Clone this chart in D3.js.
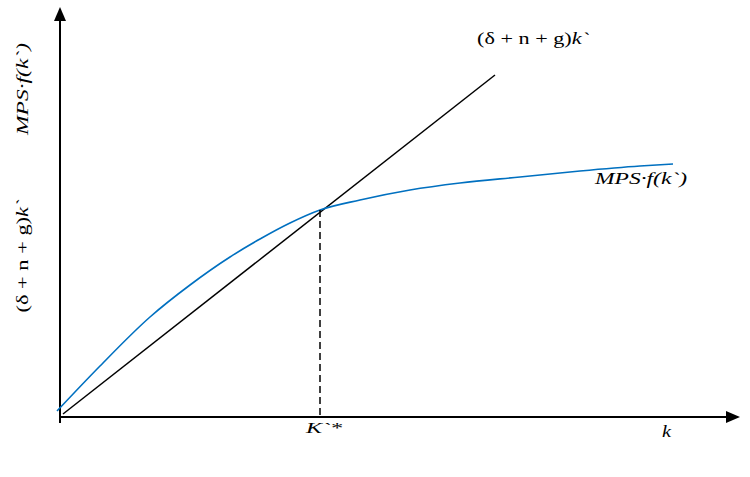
<!DOCTYPE html>
<html><head><meta charset="utf-8">
<script src="https://cdn.jsdelivr.net/npm/d3@7"></script>
<style>body{margin:0;background:#fff}svg{display:block}text{font-family:"Liberation Serif","Times New Roman",serif;fill:#000}</style>
</head><body><svg id="c" width="750" height="477"></svg>
<script>
// Data (arbitrary units)
const kBlue = [-0.3, 4, 9, 13, 17, 20, 23, 26, 30, 35, 40, 46, 52, 58, 61.3];
const yBlue = [0.6, 5.1, 10.0, 13.2, 16.0, 17.8, 19.4, 20.7, 21.7, 22.7, 23.4, 24.0, 24.6, 25.1, 25.3];
const kLine = [0.3, 43.5];
const yLine = [0.3, 34.2];
const kStar = 26;
const labels = {
  lineTop: ["(δ + n + g)", "k`"],
  curveRight: "MPS·f(k`)",
  yTop: "MPS·f(k`)",
  yBottom: ["(δ + n + g)", "k`"],
  kStar: "K`*",
  kAxis: "k"
};

const svg = d3.select("#c");
const x = d3.scaleLinear().domain([0, 68]).range([60, 740]);
const y = d3.scaleLinear().domain([0, 41]).range([417, 7]);

// axes
svg.append("line").attr("x1", x(0)).attr("x2", x(67)).attr("y1", y(0)).attr("y2", y(0)).attr("stroke", "#000").attr("stroke-width", 2);
svg.append("line").attr("x1", x(0)).attr("x2", x(0)).attr("y1", y(-0.6)).attr("y2", y(40)).attr("stroke", "#000").attr("stroke-width", 2);
// arrows
svg.append("path").attr("d", `M${x(68)},${y(0)} L${x(66.6)},${y(0)-6} L${x(66.6)},${y(0)+6} Z`).attr("fill", "#000");
svg.append("path").attr("d", `M${x(0)},${y(41)} L${x(0)-6},${y(39.6)} L${x(0)+6},${y(39.6)} Z`).attr("fill", "#000");

// black line
const lineData = kLine.map((k, i) => [k, yLine[i]]);
svg.append("path").datum(lineData)
  .attr("d", d3.line().x(d => x(d[0])).y(d => y(d[1])))
  .attr("fill", "none").attr("stroke", "#000").attr("stroke-width", 1.5);

// blue curve
const blueData = kBlue.map((k, i) => [k, yBlue[i]]);
svg.append("path").datum(blueData)
  .attr("d", d3.line().curve(d3.curveMonotoneX).x(d => x(d[0])).y(d => y(d[1])))
  .attr("fill", "none").attr("stroke", "#0070C0").attr("stroke-width", 1.6);

// dashed vertical
const yStar = yBlue[kBlue.indexOf(kStar)];
svg.append("line").attr("x1", x(kStar)).attr("x2", x(kStar)).attr("y1", y(yStar)).attr("y2", y(0))
  .attr("stroke", "#000").attr("stroke-width", 1.5).attr("stroke-dasharray", "7,4");

// labels
function lab(txt, tx, ty, size, len, rot) {
  const t = svg.append("text").attr("font-size", size)
    .attr("textLength", len).attr("lengthAdjust", "spacingAndGlyphs");
  if (Array.isArray(txt)) {
    t.append("tspan").text(txt[0]);
    t.append("tspan").attr("font-style", "italic").text(txt[1]);
  } else t.text(txt);
  if (rot) t.attr("transform", `translate(${tx},${ty}) rotate(-90)`).attr("x", -len / 2);
  else t.attr("x", tx).attr("y", ty);
  return t;
}
lab(labels.lineTop, 477, 44, 17, 112);
lab(labels.curveRight, 595, 184, 16, 92).attr("font-style", "italic");
lab(labels.yTop, 28, 89, 17, 92, true).attr("font-style", "italic");
lab(labels.yBottom, 28, 256, 16, 113, true);
lab(labels.kStar, 306, 433, 15, 36).attr("font-style", "italic");
lab(labels.kAxis, 662, 437, 16, 9).attr("font-style", "italic");
</script></body></html>
